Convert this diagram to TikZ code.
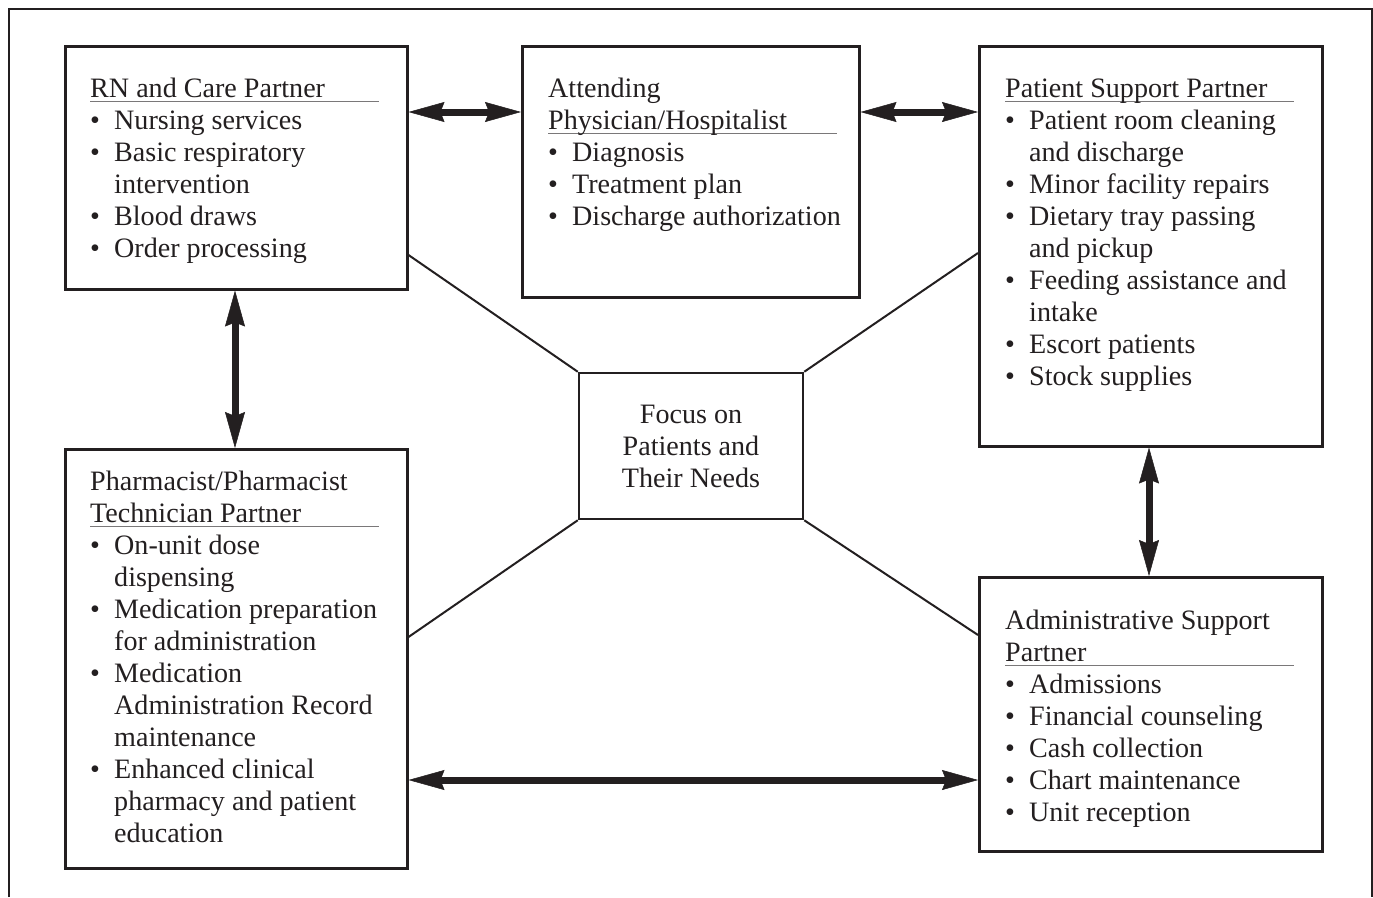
\documentclass[tikz,border=0pt]{standalone}
\usepackage{fontspec}
\setmainfont{Liberation Serif}
\usetikzlibrary{arrows.meta,calc}
\definecolor{ink}{HTML}{231F20}
\definecolor{rulegray}{HTML}{7A7879}

% heading line: underline drawn under the last heading line
\newcommand{\hdr}[1]{\makebox[0pt][l]{\color{rulegray}\rule[-5pt]{289pt}{1.2pt}}#1}
% bulleted item with hanging indent
\newcommand{\itm}{\par\hangindent=24pt\hangafter=1\noindent\makebox[24pt][l]{\textbullet}}
\newcommand{\panel}[1]{\parbox[t]{340pt}{\setlength{\parindent}{0pt}#1}}

\begin{document}
\begin{tikzpicture}[x=1pt,y=-1pt,
  box/.style={draw=ink, line width=2.5pt, inner sep=0pt, anchor=north west, rectangle},
  txt/.style={anchor=base west, inner sep=0pt, text=ink, font=\fontsize{28.1}{32}\selectfont},
  link/.style={draw=ink, line width=2pt},
  dblarrow/.style={draw=ink, line width=7pt,
    {Stealth[length=36pt,width=20pt,inset=4pt,line width=0.5pt]}-{Stealth[length=36pt,width=20pt,inset=4pt,line width=0.5pt]}}
]
\useasboundingbox (0,0) rectangle (1373,897);

% open frame
\draw[draw=ink, line width=2pt] (9,897) -- (9,9) -- (1372,9) -- (1372,897);

% partner boxes
\node[box, minimum width=342pt, minimum height=243pt] (rn)  at (64,45)  {};
\node[box, minimum width=337pt, minimum height=251pt] (att) at (521,45) {};
\node[box, minimum width=343pt, minimum height=400pt] (ps)  at (978,45) {};
\node[box, minimum width=342pt, minimum height=419pt] (ph)  at (64,448) {};
\node[box, minimum width=343pt, minimum height=274pt] (ad)  at (978,576) {};

% centre box
\node[box, anchor=center, minimum width=224pt, minimum height=146pt, align=center,
      text=ink, font=\fontsize{28.1}{32}\selectfont] (fc) at (691,446)
      {Focus on\\Patients and\\Their Needs};

% box texts
\node[txt] (rn-t) at ($(rn.north west)+(26,52)$) {\panel{%
  \hdr{RN and Care Partner}
  \itm Nursing services
  \itm Basic respiratory\newline intervention
  \itm Blood draws
  \itm Order processing}};

\node[txt] (att-t) at ($(att.north west)+(27,52)$) {\panel{%
  Attending\newline\hdr{Physician/Hospitalist}
  \itm Diagnosis
  \itm Treatment plan
  \itm Discharge authorization}};

\node[txt] (ps-t) at ($(ps.north west)+(27,52)$) {\panel{%
  \hdr{Patient Support Partner}
  \itm Patient room cleaning\newline and discharge
  \itm Minor facility repairs
  \itm Dietary tray passing\newline and pickup
  \itm Feeding assistance and\newline intake
  \itm Escort patients
  \itm Stock supplies}};

\node[txt] (ph-t) at ($(ph.north west)+(26,42)$) {\panel{%
  Pharmacist/Pharmacist\newline\hdr{Technician Partner}
  \itm On-unit dose\newline dispensing
  \itm Medication preparation\newline for administration
  \itm Medication\newline Administration Record\newline maintenance
  \itm Enhanced clinical\newline pharmacy and patient\newline education}};

\node[txt] (ad-t) at ($(ad.north west)+(27,53)$) {\panel{%
  Administrative Support\newline\hdr{Partner}
  \itm Admissions
  \itm Financial counseling
  \itm Cash collection
  \itm Chart maintenance
  \itm Unit reception}};

% spokes to the centre box
\draw[link] ($(rn.north east)+(0,210)$) -- (fc.north west);
\draw[link] ($(ps.north west)+(0,208)$) -- (fc.north east);
\draw[link] (fc.south west) -- ($(ph.north east)+(0,189)$);
\draw[link] (fc.south east) -- ($(ad.north west)+(0,59)$);

% two-way arrows between partners
\draw[dblarrow] ($(rn.north east)+(0,67)$) -- ($(att.north west)+(0,67)$);
\draw[dblarrow] ($(att.north east)+(0,67)$) -- ($(ps.north west)+(0,67)$);
\draw[dblarrow] ($(rn.south west)+(171,0)$) -- ($(ph.north west)+(171,0)$);
\draw[dblarrow] ($(ps.south west)+(171,0)$) -- ($(ad.north west)+(171,0)$);
\draw[dblarrow] ($(ph.north east)+(0,332)$) -- ($(ad.north west)+(0,204)$);
\end{tikzpicture}
\end{document}
